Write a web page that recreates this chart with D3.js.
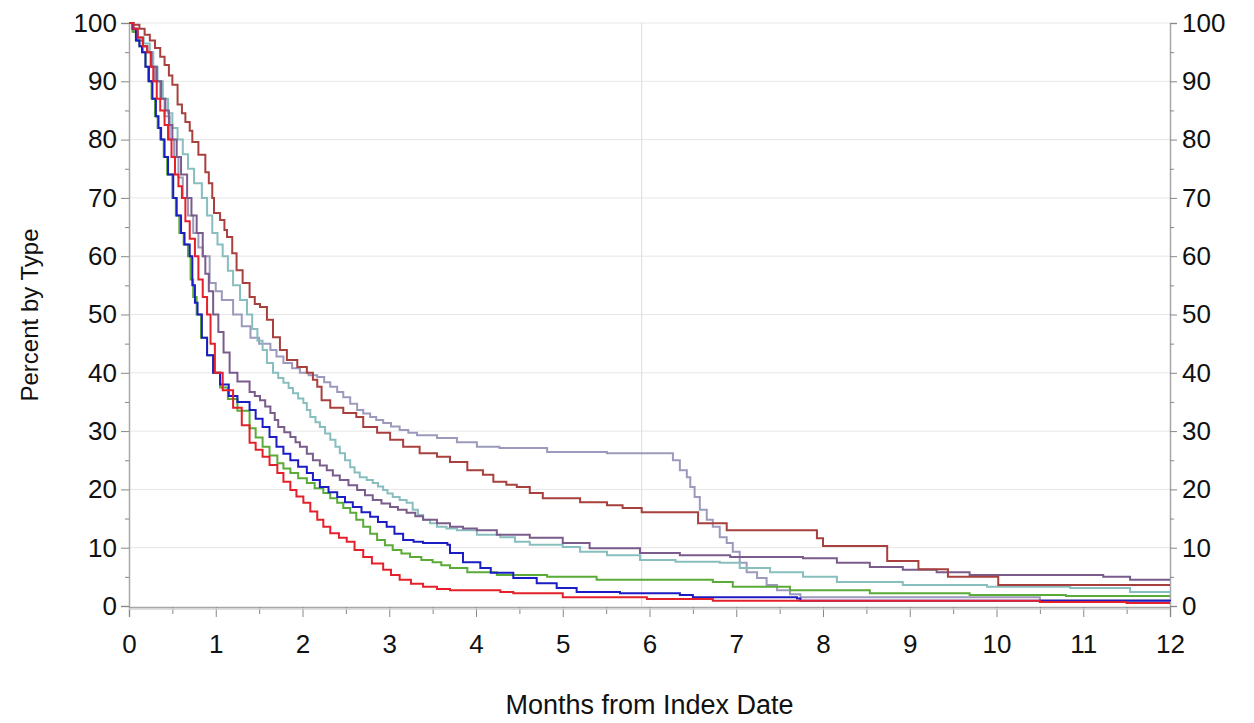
<!DOCTYPE html>
<html>
<head>
<meta charset="utf-8">
<script src="https://cdn.jsdelivr.net/npm/d3@7"></script>
<style>
  body { margin: 0; background: #fff; }
  text { font-family: "Liberation Sans", Arial, sans-serif; fill: #111; }
</style>
</head>
<body>
<div id="chart"></div>
<script>
var w = 1254;
var h = 723;

// tick labels
var xTicks = [0, 1, 2, 3, 4, 5, 6, 7, 8, 9, 10, 11, 12];
var yTicks = [0, 10, 20, 30, 40, 50, 60, 70, 80, 90, 100];
var refMonth = 5.91; // vertical reference line

// series values: [month, percent]
var brick = [[0,100],[0.05,99.7],[0.12,99],[0.18,98],[0.24,97],[0.30,95.7],[0.36,94.2],[0.41,92.8],[0.46,91],[0.50,89.4],[0.56,86],[0.61,84.5],[0.65,83],[0.70,81.5],[0.73,79.6],[0.80,77.4],[0.88,74.4],[0.92,72.5],[0.96,70],[0.98,67.4],[1.05,66.2],[1.10,64.5],[1.13,63.3],[1.19,60.5],[1.24,57.6],[1.31,55.4],[1.39,53],[1.45,51.8],[1.51,51.3],[1.59,49.1],[1.66,46.1],[1.74,43.9],[1.82,42.2],[1.94,41],[2.05,40],[2.12,38.8],[2.17,37.6],[2.22,35.3],[2.32,34],[2.47,33.1],[2.62,32.4],[2.70,30.7],[2.86,29.7],[3.01,28.5],[3.16,27.3],[3.35,26.2],[3.55,25.6],[3.70,24.7],[3.90,23.3],[4.08,22.5],[4.20,21.3],[4.35,20.8],[4.47,20.4],[4.62,19.4],[4.77,18.5],[5.2,17.8],[5.51,17.3],[5.69,16.8],[5.91,16.1],[6.56,14.2],[6.89,13.0],[7.93,11.6],[8.0,10.3],[8.74,7.7],[9.1,6.3],[9.44,5.0],[10.02,3.6],[12,3.6]];
var lavender = [[0,100],[0.05,99],[0.10,97.5],[0.16,96],[0.21,95],[0.26,92.5],[0.30,90],[0.36,87],[0.41,84],[0.47,80],[0.52,77],[0.57,73.5],[0.62,70],[0.68,67],[0.74,64],[0.80,61.5],[0.85,60],[0.93,55.4],[1.0,54],[1.07,52.5],[1.20,50],[1.30,48],[1.40,46],[1.50,45],[1.63,43.9],[1.70,42.8],[1.78,41.7],[1.88,40.8],[1.97,40],[2.07,39.6],[2.17,39.3],[2.25,38.4],[2.32,37.6],[2.40,36.7],[2.47,35.8],[2.55,34.7],[2.63,33.6],[2.70,33],[2.78,32.4],[2.85,31.9],[2.93,31.4],[3.02,30.8],[3.12,30.2],[3.22,29.7],[3.32,29.3],[3.55,28.8],[3.78,28.1],[4.01,27.3],[4.27,27.1],[4.82,26.4],[5.51,26.2],[6.22,26.2],[6.27,25],[6.35,23.3],[6.43,22.1],[6.47,20.4],[6.52,18.7],[6.58,16.5],[6.66,14.8],[6.73,13.6],[6.81,11.8],[6.89,10.8],[6.96,9.3],[7.04,7.4],[7.12,5.8],[7.24,4.8],[7.35,3.6],[7.47,2.7],[7.62,2.0],[7.74,1.5],[10.5,1.0],[12,1.0]];
var teal = [[0,100],[0.05,99],[0.10,97.5],[0.17,96.5],[0.24,95],[0.28,92.5],[0.33,90],[0.39,87],[0.45,84.5],[0.50,82],[0.56,80],[0.62,77.5],[0.68,75],[0.75,72.5],[0.84,70],[0.90,67],[0.96,64],[1.02,62],[1.08,60],[1.14,57.5],[1.20,55],[1.28,52.5],[1.36,50],[1.42,47.5],[1.48,45.5],[1.54,43.9],[1.59,41.7],[1.66,40],[1.72,39.1],[1.78,38.3],[1.84,37.4],[1.89,36.5],[1.95,35.6],[2.01,34.8],[2.05,33.6],[2.09,32.4],[2.15,31.5],[2.20,30.7],[2.26,29.6],[2.32,28.5],[2.38,27.3],[2.43,26.2],[2.49,25],[2.55,23.8],[2.60,22.9],[2.66,22.1],[2.74,21.6],[2.81,21.1],[2.87,20.5],[2.93,19.9],[2.98,19.3],[3.04,18.7],[3.12,18.2],[3.20,17.7],[3.27,16.5],[3.33,15.6],[3.39,14.8],[3.47,14.2],[3.55,13.6],[3.66,13.3],[3.78,13.0],[4.01,12.2],[4.28,11.8],[4.45,11.0],[4.62,10.5],[5.0,10.1],[5.2,9.3],[5.51,8.7],[5.89,7.9],[6.3,7.6],[6.81,7.4],[7.04,6.5],[7.39,5.8],[7.77,5.0],[8.16,4.1],[8.92,3.6],[9.89,3.3],[10.85,3.1],[11.54,2.4],[12,2.2]];
var purple = [[0,100],[0.05,98.5],[0.10,97],[0.16,96],[0.21,95],[0.26,92.5],[0.32,90],[0.37,87],[0.42,85],[0.46,82.5],[0.50,80],[0.55,77],[0.60,74],[0.67,70],[0.72,67],[0.78,64],[0.85,60],[0.88,57],[0.92,54],[0.97,50],[1.03,47],[1.09,43.5],[1.16,40],[1.25,38.5],[1.39,36.7],[1.45,36],[1.51,35.3],[1.57,34.2],[1.63,33.1],[1.68,31.9],[1.72,30.7],[1.79,29.8],[1.86,29],[1.92,28.1],[1.97,27.3],[2.05,26.1],[2.12,25],[2.20,24.1],[2.28,23.3],[2.35,22.4],[2.43,21.6],[2.53,20.7],[2.63,19.9],[2.72,19],[2.81,18.2],[2.91,17.6],[3.01,17],[3.10,16.5],[3.20,16],[3.30,15.4],[3.39,14.8],[3.55,14.2],[3.70,13.6],[3.85,13.3],[4.01,13.0],[4.24,12.2],[4.62,11.7],[5.0,10.8],[5.31,9.9],[5.89,9.1],[6.35,8.7],[6.93,8.4],[7.5,8.4],[7.77,8.2],[8.16,7.4],[8.54,6.7],[8.92,6.2],[9.31,5.8],[9.69,5.3],[11.23,5.0],[11.54,4.5],[12,4.5]];
var blue = [[0,100],[0.04,99],[0.08,97],[0.12,96],[0.15,95],[0.19,92.5],[0.23,90],[0.27,87],[0.31,84],[0.34,82],[0.37,80],[0.41,77],[0.45,74],[0.51,70],[0.55,67],[0.60,64],[0.64,62],[0.70,60],[0.73,55],[0.76,52],[0.79,50],[0.84,46],[0.90,43],[0.97,40],[1.05,38],[1.15,36],[1.25,35],[1.39,33.6],[1.46,32.1],[1.54,30.7],[1.62,29],[1.70,27.3],[1.78,26.1],[1.86,25],[1.95,23.9],[2.05,22.8],[2.12,21.6],[2.20,20.4],[2.30,19.5],[2.40,18.7],[2.49,17.8],[2.58,17],[2.68,16.1],[2.78,15.3],[2.87,14.4],[2.97,13.6],[3.06,12.4],[3.16,11.3],[3.28,11],[3.39,10.8],[3.67,10.5],[3.70,9.1],[3.85,7.5],[4.05,6.5],[4.17,5.7],[4.43,4.8],[4.70,3.9],[4.93,3.1],[5.16,2.4],[5.66,2.2],[6.35,1.9],[6.50,1.5],[7.70,1.3],[7.74,0.9],[12,0.8]];
var green = [[0,100],[0.04,98.5],[0.08,97],[0.12,96],[0.16,95],[0.19,92.5],[0.22,90],[0.26,87],[0.30,84],[0.33,82],[0.36,80],[0.40,77],[0.44,74],[0.50,70],[0.54,67],[0.58,64],[0.63,62],[0.68,60],[0.71,56],[0.74,53],[0.78,50],[0.83,46],[0.90,43],[0.97,40],[1.05,37.5],[1.14,35.5],[1.25,33.5],[1.39,30.5],[1.46,28.9],[1.54,27.3],[1.62,25.8],[1.71,24.5],[1.78,23.6],[1.86,22.8],[1.95,21.9],[2.05,21.1],[2.14,20.2],[2.24,19.4],[2.32,18.5],[2.40,17.7],[2.47,16.8],[2.55,16],[2.62,14.8],[2.70,13.6],[2.78,12.4],[2.86,11.3],[2.95,10.4],[3.04,9.6],[3.14,9],[3.24,8.4],[3.37,7.9],[3.50,7.5],[3.60,7],[3.70,6.5],[3.90,5.8],[4.24,5.3],[4.82,5.0],[5.39,4.5],[6.73,4.1],[6.96,3.3],[7.62,2.7],[8.54,2.2],[9.69,1.9],[10.8,1.7],[12,1.7]];
var red = [[0,100],[0.05,99],[0.10,97.5],[0.16,96],[0.21,95],[0.25,92.5],[0.28,90],[0.32,87],[0.36,85],[0.41,82.5],[0.45,80],[0.49,77],[0.53,74],[0.57,72],[0.61,70],[0.65,66],[0.70,63],[0.76,60],[0.80,56],[0.85,53],[0.90,50],[0.94,45],[0.99,40],[1.08,37],[1.20,34],[1.30,31],[1.39,28],[1.46,26.8],[1.54,25.6],[1.62,24.2],[1.71,22.8],[1.78,21.3],[1.86,19.9],[1.93,18.8],[2.01,17.7],[2.09,16.2],[2.17,14.8],[2.24,13.6],[2.32,12.5],[2.42,11.7],[2.51,11],[2.60,9.6],[2.70,8.4],[2.80,7.3],[2.93,6.2],[3.02,5.3],[3.12,4.5],[3.25,3.8],[3.39,3.3],[3.55,2.9],[3.70,2.7],[4.28,2.4],[4.43,2.2],[5.0,1.5],[5.97,1.2],[6.73,0.9],[10.5,0.7],[11.5,0.5],[12,0.5]];

var seriesList = [
  { name: 'lavender', values: lavender, color: '#9c9abc' },
  { name: 'teal', values: teal, color: '#88bebe' },
  { name: 'purple', values: purple, color: '#7a5c8c' },
  { name: 'brick', values: brick, color: '#a8403e' },
  { name: 'green', values: green, color: '#5aab38' },
  { name: 'blue', values: blue, color: '#1c1cc4' },
  { name: 'red', values: red, color: '#e4202a' }
];

var plotLeft = 129, plotRight = 1170, plotTop = 23, plotBottom = 606;

var svg = d3.select('#chart')
  .append('svg')
    .attr('width', w)
    .attr('height', h);

var x = d3.scaleLinear().domain([0, 12]).range([plotLeft, plotRight]);
var y = d3.scaleLinear().domain([0, 100]).range([plotBottom, plotTop]);

// horizontal gridlines
svg.append('g')
  .selectAll('line')
  .data(yTicks.filter(function(d) { return d > 0; }))
  .enter()
  .append('line')
    .attr('x1', plotLeft)
    .attr('x2', plotRight)
    .attr('y1', function(d) { return y(d); })
    .attr('y2', function(d) { return y(d); })
    .style('stroke', '#e6e6e6')
    .style('stroke-width', 1);

// reference line
svg.append('line')
  .attr('x1', x(refMonth))
  .attr('x2', x(refMonth))
  .attr('y1', plotTop)
  .attr('y2', plotBottom)
  .style('stroke', '#dcdcdc')
  .style('stroke-width', 1);

// minor ticks
var halfMonths = d3.range(0.5, 12, 1);
var fives = d3.range(5, 100, 10);

// bottom axis
svg.append('g')
  .attr('transform', 'translate(0,' + (plotBottom + 1) + ')')
  .call(d3.axisBottom(x).tickValues(xTicks).tickSize(10).tickPadding(18).tickFormat(d3.format('d')));
svg.append('g')
  .attr('transform', 'translate(0,' + (plotBottom + 1) + ')')
  .call(d3.axisBottom(x).tickValues(halfMonths).tickSize(7).tickFormat(''))
  .select('.domain').remove();

// left axis
svg.append('g')
  .attr('transform', 'translate(' + plotLeft + ',0)')
  .call(d3.axisLeft(y).tickValues(yTicks).tickSize(8).tickPadding(4));
svg.append('g')
  .attr('transform', 'translate(' + plotLeft + ',0)')
  .call(d3.axisLeft(y).tickValues(fives).tickSize(4).tickFormat(''))
  .select('.domain').remove();

// right axis
svg.append('g')
  .attr('transform', 'translate(' + plotRight + ',0)')
  .call(d3.axisRight(y).tickValues(yTicks).tickSize(7).tickPadding(5));
svg.append('g')
  .attr('transform', 'translate(' + plotRight + ',0)')
  .call(d3.axisRight(y).tickValues(fives).tickSize(4).tickFormat(''))
  .select('.domain').remove();

svg.selectAll('.domain').style('stroke', '#a8a8a8').style('stroke-width', 1.5);
svg.selectAll('.tick line').style('stroke', '#888');
svg.selectAll('.tick text')
  .style('font-family', '"Liberation Sans", Arial, sans-serif')
  .style('font-size', '26px')
  .style('fill', '#111');

// second light line under the x axis (double rule look)
svg.append('line')
  .attr('x1', plotLeft)
  .attr('x2', plotRight)
  .attr('y1', plotBottom + 3)
  .attr('y2', plotBottom + 3)
  .style('stroke', '#d0d0d0')
  .style('stroke-width', 1.5);

// step curves
var line = d3.line()
  .curve(d3.curveStepAfter)
  .x(function(d) { return x(d[0]); })
  .y(function(d) { return y(d[1]); });

svg.append('g')
  .selectAll('path')
  .data(seriesList)
  .enter()
  .append('path')
    .attr('d', function(d) { return line(d.values); })
    .style('fill', 'none')
    .style('stroke', function(d) { return d.color; })
    .style('stroke-width', 2);

// axis titles
svg.append('text')
  .attr('x', (plotLeft + plotRight) / 2)
  .attr('y', 714)
  .attr('text-anchor', 'middle')
  .style('font-size', '27px')
  .text('Months from Index Date');

svg.append('text')
  .attr('transform', 'translate(38,' + 315 + ') rotate(-90)')
  .attr('text-anchor', 'middle')
  .style('font-size', '24px')
  .text('Percent by Type');
</script>
</body>
</html>
